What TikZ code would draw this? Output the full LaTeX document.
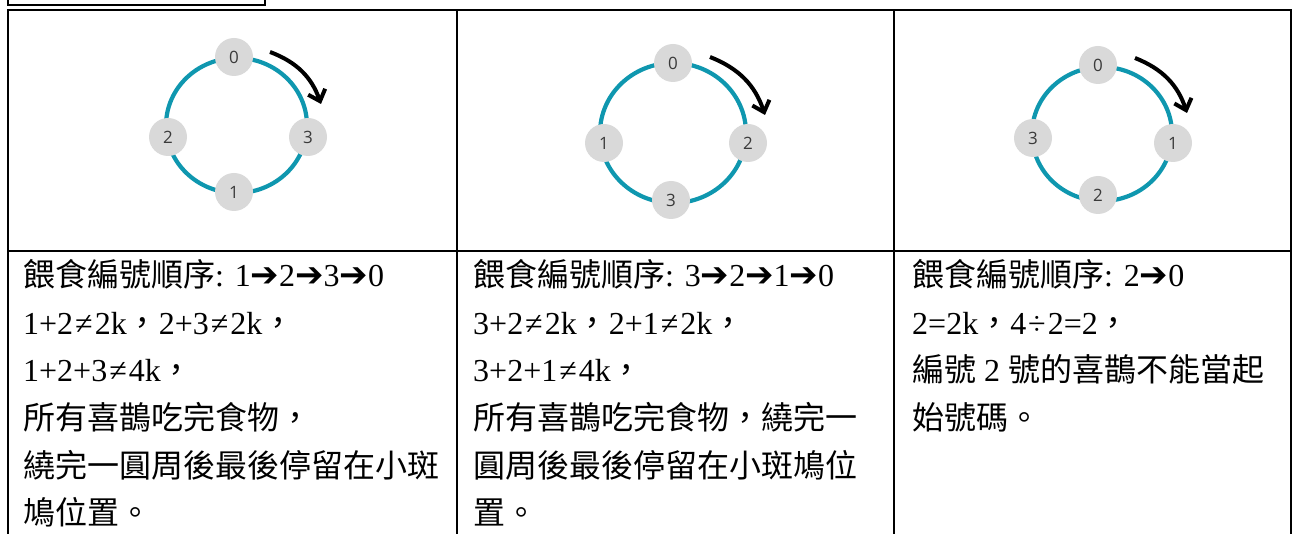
\documentclass[tikz,border=0pt]{standalone}
\usepackage{fontspec}
\setmainfont{Liberation Serif}
\newfontfamily\cjk{Noto Sans CJK TC}
\newfontfamily\symf{DejaVu Sans}
\newfontfamily\numf{Open Sans}
\usetikzlibrary{arrows.meta}
\definecolor{ringteal}{HTML}{0F97AF}
\definecolor{birdgray}{HTML}{D9D9D9}
\definecolor{digitgray}{HTML}{3A3A3A}
\newcommand{\feedarrow}{{\symf\fontsize{34}{34}\selectfont ➔}}
\newcommand{\neqsign}{\hspace{2pt}≠\hspace{2pt}}
\begin{document}
\begin{tikzpicture}[x=1pt,y=-1pt,
  bird/.style={circle,fill=birdgray,minimum size=38pt,inner sep=0pt,font=\numf\fontsize{17}{17}\selectfont,text=digitgray},
  ring/.style={draw=ringteal,line width=4.2pt},
  turn/.style={line width=4pt,-{Straight Barb[length=10pt,width=18pt]},bend left=25},
  txt/.style={anchor=base west,inner sep=0pt,font=\fontsize{32}{32}\selectfont},
  rule/.style={line width=2pt}]
\useasboundingbox (0,0) rectangle (1293,534);
\clip (0,0) rectangle (1293,534);
% small box at top
\draw[rule] (8,-2) -- (8,5) -- (265,5) -- (265,-2);
% table
\draw[rule] (8,540) -- (8,10) -- (1291,10) -- (1291,540);
\draw[rule] (457,10) -- (457,540);
\draw[rule] (894,10) -- (894,540);
\draw[rule] (8,251) -- (1291,251);
% panel 1
\draw[ring] (236.5,125.5) ellipse [x radius=70.5pt, y radius=67.5pt];
\node[bird] (p1n0) at (234,57) {0};
\node[bird] (p1n2) at (168,137) {2};
\node[bird] (p1n3) at (308,137) {3};
\node[bird] (p1n1) at (234,192) {1};
\coordinate (p1s) at (270,52);
\coordinate (p1e) at (321,104);
\draw[turn] (p1s) to (p1e);
% panel 2
\draw[ring] (673,133) ellipse [x radius=73pt, y radius=70pt];
\node[bird] (p2n0) at (673,63) {0};
\node[bird] (p2n1) at (604,143) {1};
\node[bird] (p2n2) at (748,143) {2};
\node[bird] (p2n3) at (671,200) {3};
\coordinate (p2s) at (710,57);
\coordinate (p2e) at (765,115);
\draw[turn] (p2s) to (p2e);
% panel 3
\draw[ring] (1102,134) ellipse [x radius=70pt, y radius=67pt];
\node[bird] (p3n0) at (1098,65) {0};
\node[bird] (p3n3) at (1033,138) {3};
\node[bird] (p3n1) at (1173,143) {1};
\node[bird] (p3n2) at (1098,195) {2};
\coordinate (p3s) at (1135,58);
\coordinate (p3e) at (1187,113);
\draw[turn] (p3s) to (p3e);
% texts column 1
\node[txt] (c1a) at (23,287) {{\cjk 餵食編號順序}: 1\feedarrow2\feedarrow3\feedarrow0};
\node[txt] (c1b) at (23,334.5) {1+2\neqsign2k{\cjk ，}2+3\neqsign2k{\cjk ，}};
\node[txt] (c1c) at (23,382) {1+2+3\neqsign4k{\cjk ，}};
\node[txt] (c1d) at (23,429.5) {\cjk 所有喜鵲吃完食物，};
\node[txt] (c1e) at (23,477) {\cjk 繞完一圓周後最後停留在小斑};
\node[txt] (c1f) at (23,524.5) {\cjk 鳩位置。};
% texts column 2
\node[txt] (c2a) at (473,287) {{\cjk 餵食編號順序}: 3\feedarrow2\feedarrow1\feedarrow0};
\node[txt] (c2b) at (473,334.5) {3+2\neqsign2k{\cjk ，}2+1\neqsign2k{\cjk ，}};
\node[txt] (c2c) at (473,382) {3+2+1\neqsign4k{\cjk ，}};
\node[txt] (c2d) at (473,429.5) {\cjk 所有喜鵲吃完食物，繞完一};
\node[txt] (c2e) at (473,477) {\cjk 圓周後最後停留在小斑鳩位};
\node[txt] (c2f) at (473,524.5) {\cjk 置。};
% texts column 3
\node[txt] (c3a) at (912,287) {{\cjk 餵食編號順序}: 2\feedarrow0};
\node[txt] (c3b) at (912,334.5) {2=2k{\cjk ，}4\hspace{2pt}÷\hspace{2pt}2=2{\cjk ，}};
\node[txt] (c3c) at (912,382) {{\cjk 編號} 2 {\cjk 號的喜鵲不能當起}};
\node[txt] (c3d) at (912,429.5) {\cjk 始號碼。};
\end{tikzpicture}
\end{document}
